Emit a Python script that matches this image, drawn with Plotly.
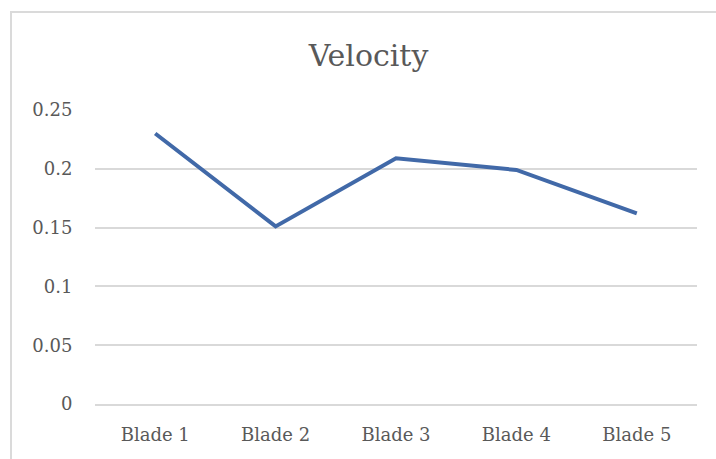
import plotly.graph_objects as go

# Velocity measured at each blade
blades = ["Blade 1", "Blade 2", "Blade 3", "Blade 4", "Blade 5"]
velocity = [0.23, 0.151, 0.209, 0.199, 0.162]

# y-axis ticks
y_ticks = [0, 0.05, 0.1, 0.15, 0.2, 0.25]
y_tick_text = ["0", "0.05", "0.1", "0.15", "0.2", "0.25"]

W, H = 716, 459
L, R, T, B = 95, 19, 110, 55

text_color = "#595959"
grid_color = "#d9d9d9"
font_family = "DejaVu Serif"

fig = go.Figure(
    go.Scatter(
        x=blades,
        y=velocity,
        mode="lines",
        line=dict(color="#4169A8", width=4),
        hoverinfo="x+y",
    )
)

# chart-area frame (top and left edges visible)
plot_w = W - L - R
plot_h = H - T - B
fig.add_shape(
    type="rect",
    xref="paper", yref="paper",
    x0=(11 - L) / plot_w, x1=(W + 20 - L) / plot_w,
    y0=-(B + 20) / plot_h, y1=(H - 12 - B) / plot_h,
    line=dict(color="#dadada", width=2),
    fillcolor="rgba(0,0,0,0)",
    layer="below",
)

fig.update_layout(
    width=W,
    height=H,
    margin=dict(l=L, r=R, t=T, b=B),
    paper_bgcolor="white",
    plot_bgcolor="white",
    showlegend=False,
    title=dict(
        text="Velocity",
        font=dict(family=font_family, size=30, color=text_color),
        x=368.5 / W,
        xref="container",
        xanchor="center",
        y=1 - 55 / H,
        yref="container",
        yanchor="middle",
    ),
    xaxis=dict(
        type="category",
        range=[-0.5, 4.5],
        showgrid=False,
        showline=True,
        linecolor=grid_color,
        linewidth=1.5,
        ticks="outside",
        ticklen=14,
        tickcolor="rgba(0,0,0,0)",
        tickfont=dict(family=font_family, size=18, color=text_color),
        zeroline=False,
    ),
    yaxis=dict(
        range=[0, 0.25],
        tickvals=y_ticks,
        ticktext=y_tick_text,
        showgrid=True,
        gridcolor=grid_color,
        gridwidth=1.5,
        zeroline=False,
        showline=False,
        ticks="outside",
        ticklen=18,
        tickcolor="rgba(0,0,0,0)",
        tickfont=dict(family=font_family, size=18, color=text_color),
    ),
)

fig.write_html("out.html")
